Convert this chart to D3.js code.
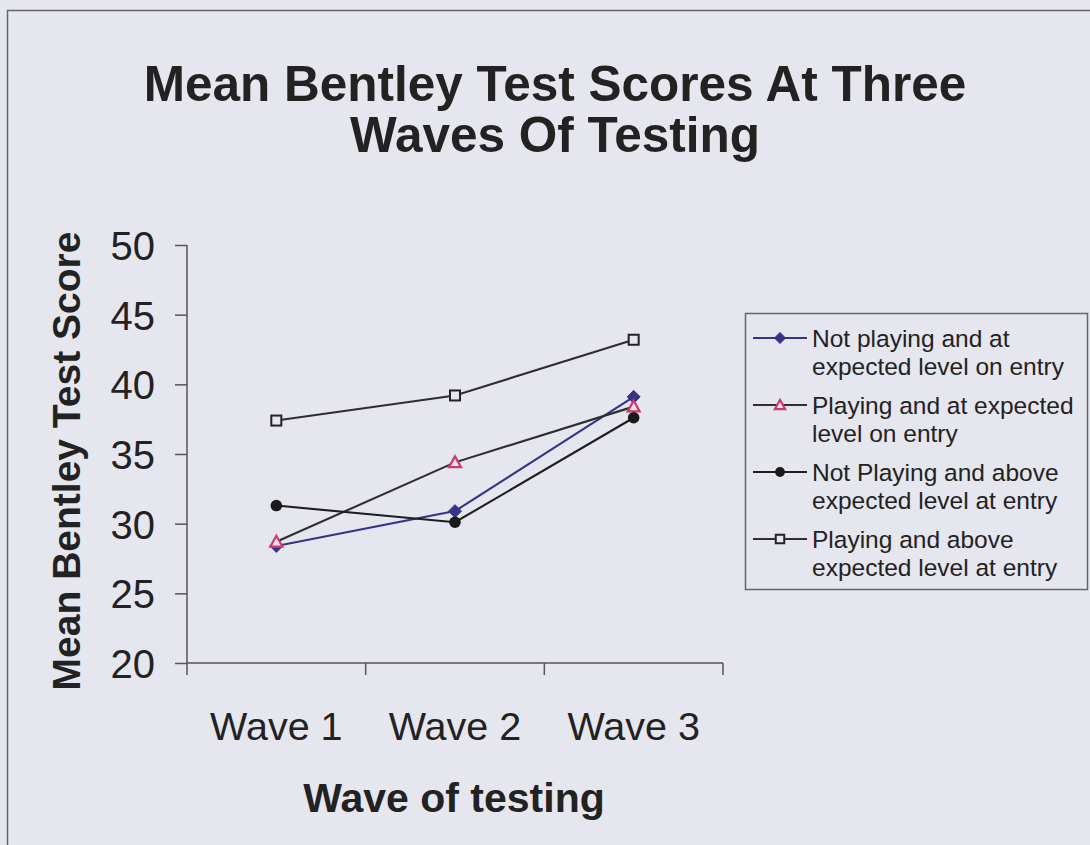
<!DOCTYPE html>
<html>
<head>
<meta charset="utf-8">
<script src="https://cdn.jsdelivr.net/npm/d3@7"></script>
<style>
  html, body { margin: 0; padding: 0; background: #e6e6ef; }
  svg { display: block; }
  text { font-family: "Liberation Sans", Arial, sans-serif; fill: #222; }
</style>
</head>
<body>
<svg id="chart" width="1090" height="845"></svg>
<script>
const categories = ["Wave 1", "Wave 2", "Wave 3"];
const yTicks = [20, 25, 30, 35, 40, 45, 50];
const seriesNames = [
  ["Not playing and at", "expected level on entry"],
  ["Playing and at expected", "level on entry"],
  ["Not Playing and above", "expected level at entry"],
  ["Playing and above", "expected level at entry"]
];
const notPlayingExpected = [28.4, 30.9, 39.1];
const playingExpected = [28.7, 34.4, 38.4];
const notPlayingAbove = [31.3, 30.1, 37.6];
const playingAbove = [37.4, 39.2, 43.2];
const seriesValues = [notPlayingExpected, playingExpected, notPlayingAbove, playingAbove];
const titleLines = ["Mean Bentley Test Scores At Three", "Waves Of Testing"];

const styles = [
  { line: "#35348a", marker: "diamond", fill: "#35348a", stroke: "#35348a" },
  { line: "#2e2e2e", marker: "triangle", fill: "none", stroke: "#d0386a" },
  { line: "#1e1e1e", marker: "circle", fill: "#1a1a1a", stroke: "#1a1a1a" },
  { line: "#2e2e2e", marker: "square", fill: "none", stroke: "#222222" }
];
const bg = "#e6e6ef";

const svg = d3.select("#chart");

// outer chart border
svg.append("rect").attr("x", 7.5).attr("y", 10.5).attr("width", 1200).attr("height", 1000)
  .attr("fill", "none").attr("stroke", "#666").attr("stroke-width", 1.5);

// title
svg.append("g").selectAll("text").data(titleLines).join("text")
  .attr("x", 555).attr("y", (d, i) => 101 + i * 51)
  .attr("text-anchor", "middle")
  .style("font-size", "49.5px").style("font-weight", "bold")
  .text(d => d);

const x = d3.scaleBand().domain(categories).range([187, 723]);
const y = d3.scaleLinear().domain([20, 50]).range([663, 245]);

// y axis
const yAxis = svg.append("g").attr("transform", "translate(187,0)")
  .call(d3.axisLeft(y).tickValues(yTicks).tickSize(12).tickPadding(20).tickFormat(d3.format("d")));
yAxis.selectAll("path, line").attr("stroke", "#555").attr("stroke-width", 1.5);
yAxis.select(".domain").attr("d", `M0,${y(50)}V${y(20)}`);
yAxis.selectAll("text").style("font-size", "40px").style("font-family", "Liberation Sans, Arial, sans-serif").attr("fill", "#222").attr("dy", "0.36em");

// x axis
const xAxis = svg.append("g").attr("transform", "translate(0,663)")
  .call(d3.axisBottom(x).tickSize(0).tickPadding(0));
xAxis.select(".domain").attr("d", `M187,0H723`).attr("stroke", "#555").attr("stroke-width", 1.5);
xAxis.selectAll(".tick text").attr("y", 77).attr("dy", 0).style("font-size", "39.5px")
  .style("font-family", "Liberation Sans, Arial, sans-serif").attr("fill", "#222");
// category boundary ticks
const bounds = categories.map(c => x(c)).concat([x(categories[categories.length - 1]) + x.bandwidth()]);
xAxis.append("g").selectAll("line").data(bounds).join("line")
  .attr("x1", d => d).attr("x2", d => d).attr("y1", 0).attr("y2", 12)
  .attr("stroke", "#555").attr("stroke-width", 1.5);

// axis titles
svg.append("text").attr("x", 454).attr("y", 812).attr("text-anchor", "middle")
  .style("font-size", "41px").style("font-weight", "bold").text("Wave of testing");
svg.append("text").attr("transform", "translate(80,461) rotate(-90)").attr("text-anchor", "middle")
  .style("font-size", "39px").style("font-weight", "bold").text("Mean Bentley Test Score");

function drawMarker(g, type, cx, cy, st, k) {
  if (type === "diamond") {
    const r = 6.5 * k;
    g.append("path").attr("d", `M${cx},${cy - r}L${cx + r},${cy}L${cx},${cy + r}L${cx - r},${cy}Z`)
      .attr("fill", st.fill).attr("stroke", st.stroke).attr("stroke-width", 1);
  } else if (type === "triangle") {
    const r = 6 * k;
    g.append("path").attr("d", `M${cx},${cy - r}L${cx + r},${cy + r * 0.8}L${cx - r},${cy + r * 0.8}Z`)
      .attr("fill", bg).attr("stroke", st.stroke).attr("stroke-width", 2.2);
  } else if (type === "circle") {
    g.append("circle").attr("cx", cx).attr("cy", cy).attr("r", 5.8 * k).attr("fill", st.fill);
  } else if (type === "square") {
    const r = 5 * k;
    g.append("rect").attr("x", cx - r).attr("y", cy - r).attr("width", 2 * r).attr("height", 2 * r)
      .attr("fill", bg).attr("stroke", st.stroke).attr("stroke-width", 2);
  }
}

const line = d3.line().x((d, i) => x(categories[i]) + x.bandwidth() / 2).y(d => y(d));
const plot = svg.append("g");
seriesValues.forEach((vals, si) => {
  plot.append("path").datum(vals).attr("d", line).attr("fill", "none")
    .attr("stroke", styles[si].line).attr("stroke-width", 2.1);
});
seriesValues.forEach((vals, si) => {
  vals.forEach((v, i) => drawMarker(plot, styles[si].marker, x(categories[i]) + x.bandwidth() / 2, y(v), styles[si], 1));
});

// legend
const lg = svg.append("g");
lg.append("rect").attr("x", 745.5).attr("y", 313.5).attr("width", 342).attr("height", 276)
  .attr("fill", "none").attr("stroke", "#666").attr("stroke-width", 1.5);
seriesNames.forEach((lines, si) => {
  const base = 347 + si * 67;
  const my = base - 9;
  lg.append("line").attr("x1", 753).attr("x2", 807).attr("y1", my).attr("y2", my)
    .attr("stroke", styles[si].line).attr("stroke-width", 2);
  drawMarker(lg, styles[si].marker, 780, my, styles[si], 0.85);
  lines.forEach((t, li) => {
    lg.append("text").attr("x", 812).attr("y", base + li * 27.5)
      .style("font-size", "24.5px").text(t);
  });
});
</script>
</body>
</html>
